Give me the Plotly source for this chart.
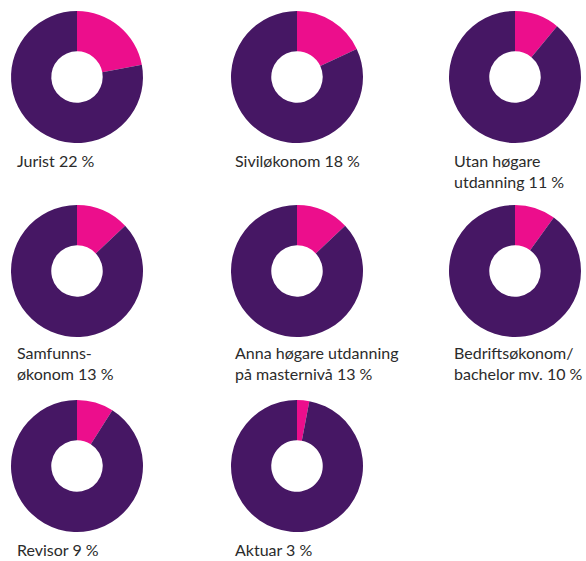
import plotly.graph_objects as go

# Share of each education background (per cent)
labels = ["Jurist", "Siviløkonom", "Utan høgare\nutdanning", "Samfunns-\nøkonom",
          "Anna høgare utdanning\npå masternivå", "Bedriftsøkonom/\nbachelor mv.",
          "Revisor", "Aktuar"]
shares = [22, 18, 11, 13, 13, 10, 9, 3]

PINK = "#EC0E8C"
PURPLE = "#461764"
W, H = 586, 561

col_x = [11, 231, 449]      # left edge of each donut (px)
row_y = [11, 205, 400]      # top edge of each donut (px)
size = 132                  # donut diameter (px)
label_x = [15, 233, 452]
label_y = [149, 341, 538]

fig = go.Figure()
annotations = []
for i, (lab, val) in enumerate(zip(labels, shares)):
    r, c = divmod(i, 3)
    x0, y0 = col_x[c], row_y[r]
    fig.add_trace(go.Pie(
        values=[val, 100 - val],
        labels=["share", "rest"],
        hole=0.39,
        sort=False,
        direction="clockwise",
        rotation=0,
        marker=dict(colors=[PINK, PURPLE], line=dict(width=0)),
        textinfo="none",
        hoverinfo="none",
        showlegend=False,
        domain=dict(x=[x0 / W, (x0 + size) / W],
                    y=[1 - (y0 + size) / H, 1 - y0 / H]),
    ))
    text = f"{lab} {val} %".replace("\n", "<br>")
    annotations.append(dict(
        text=text, x=label_x[c] / W, y=1 - label_y[r] / H,
        xref="paper", yref="paper", xanchor="left", yanchor="top",
        align="left", showarrow=False,
        font=dict(family="Lato, Open Sans, sans-serif", size=16, color="#2b2b2b"),
    ))

fig.update_layout(
    width=W, height=H,
    margin=dict(l=0, r=0, t=0, b=0),
    paper_bgcolor="white", plot_bgcolor="white",
    annotations=annotations,
)
fig.write_html("out.html")
